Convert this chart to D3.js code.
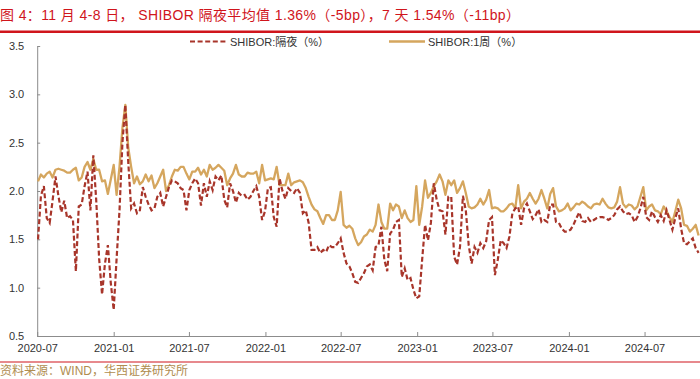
<!DOCTYPE html>
<html><head><meta charset="utf-8">
<script src="https://cdn.jsdelivr.net/npm/d3@7"></script>
<style>
html,body{margin:0;padding:0;background:#fff;}
svg{display:block;font-family:"Liberation Sans","Noto Sans CJK SC",Arial,sans-serif;}
</style></head>
<body>
<svg id="chart" width="700" height="379"></svg>
<script>
// ---- data (weekly averages, from 2020-07-03 to 2024-11-08) ----
const startDate = "2020-07-03";
const overnight = [
1.50,1.95,2.05,1.72,1.67,1.90,2.15,1.95,1.78,1.90,1.72,1.74,1.70,1.17,1.84,1.86,2.05,2.20,1.80,2.37,
1.90,1.30,0.93,1.25,1.44,1.05,0.77,1.30,1.80,2.50,2.89,2.30,1.82,
1.87,1.77,1.80,2.04,1.94,1.86,1.80,1.82,1.94,1.98,1.84,1.94,2.04,2.11,2.10,2.08,2.03,2.01,1.80,2.01,2.08,2.13,2.08,
1.85,2.08,1.94,2.10,2.01,2.15,2.11,2.16,1.91,1.83,2.08,2.00,1.88,1.98,1.95,1.96,1.91,1.94,2.00,2.05,1.94,1.70,1.79,2.03,2.04,1.73,1.63,2.13,
2.00,
1.92,2.03,2.00,1.98,2.03,1.98,1.77,1.80,1.67,1.39,1.39,1.42,1.36,1.39,1.37,1.44,1.42,1.42,1.46,1.51,1.36,1.25,1.22,1.15,1.06,1.05,1.10,1.15,
1.22,1.24,1.18,1.42,1.44,1.63,1.29,1.17,1.56,1.60,1.68,1.70,1.11,1.20,1.08,1.10,0.98,0.89,0.91,1.29,1.65,1.49,1.67,2.08,1.91,1.80,1.79,1.55,1.94,1.94,
1.32,1.24,1.42,1.95,1.80,1.44,1.25,1.42,1.36,1.46,1.41,1.48,1.70,1.73,1.13,1.29,1.49,1.46,1.41,1.53,1.77,1.82,1.84,1.65,1.82,1.87,1.79,
1.71,1.75,1.81,1.68,1.70,1.68,1.86,1.86,1.68,1.67,1.61,1.58,1.58,1.60,1.65,1.72,1.78,1.69,1.68,1.72,1.68,1.70,1.72,1.73,1.73,1.72,1.70,1.72,1.75,1.81,
1.84,1.79,1.76,1.77,1.75,1.68,1.73,1.82,1.94,1.73,1.70,1.79,1.73,1.68,1.75,1.69,1.80,1.70,1.60,1.72,1.82,1.61,1.46,1.45,1.48,1.51,1.41,
1.36
];
const oneWeek = [
2.10,2.17,2.14,2.18,2.20,2.14,2.22,2.23,2.22,2.21,2.19,2.19,2.22,2.24,2.11,2.14,2.25,2.30,2.22,2.33,
2.22,2.22,2.10,2.11,1.97,2.12,2.27,1.96,2.25,2.65,2.89,2.45,2.25,
2.08,2.15,2.07,2.10,2.17,2.10,2.16,2.03,2.08,2.15,2.22,2.00,2.06,2.15,2.22,2.21,2.25,2.25,2.18,2.12,2.20,2.20,2.24,
2.17,2.22,2.15,2.27,2.22,2.24,2.27,2.24,2.21,2.06,2.13,2.18,2.27,2.17,2.15,2.15,2.19,2.18,2.18,2.20,2.08,2.27,2.11,2.12,2.13,2.12,2.25,2.06,
2.06,
2.06,2.18,2.06,2.09,2.10,2.11,2.09,2.03,1.94,1.86,1.81,1.79,1.72,1.66,1.75,1.75,1.70,1.70,1.80,1.99,1.65,1.62,1.64,1.61,1.51,1.44,1.47,1.53,
1.55,1.60,1.58,1.65,1.86,1.68,1.61,1.61,1.87,1.80,1.86,1.84,1.72,1.80,1.72,1.68,1.70,2.05,1.65,1.84,2.11,1.93,1.98,2.05,2.10,2.17,2.10,1.96,2.11,2.06,
2.11,1.98,2.03,2.10,1.98,1.84,1.82,1.83,1.86,1.92,1.86,1.91,2.01,1.82,1.83,1.82,1.79,1.79,1.82,1.86,1.87,1.82,2.06,1.82,1.89,1.92,1.98,
1.92,1.87,1.92,2.01,1.92,1.82,1.97,2.03,1.84,1.79,1.80,1.82,1.87,1.80,1.83,1.87,1.86,1.89,1.87,1.84,1.82,1.86,1.87,1.86,1.92,1.87,1.83,1.82,1.83,1.89,
2.04,1.87,1.83,1.86,1.85,1.81,1.84,1.94,2.04,1.80,1.84,1.86,1.80,1.79,1.76,1.84,1.79,1.73,1.68,1.79,1.91,1.82,1.65,1.64,1.58,1.61,1.65,
1.54
];
const yTicks = [0.5,1.0,1.5,2.0,2.5,3.0,3.5];
const xTickLabels = ["2020-07","2021-01","2021-07","2022-01","2022-07","2023-01","2023-07","2024-01","2024-07"];
const seriesNames = ["SHIBOR:隔夜（%）","SHIBOR:1周（%）"];
const titleText = "图 4：11 月 4-8 日， SHIBOR 隔夜平均值 1.36%（-5bp），7 天 1.54%（-11bp）";
const sourceText = "资料来源：WIND，华西证券研究所";

// ---- build ----
const parse = d3.utcParse("%Y-%m-%d");
const parseM = d3.utcParse("%Y-%m");
const t0 = parse(startDate);
const dates = overnight.map((_, i) => d3.utcDay.offset(t0, 7 * i));
const on = overnight.map((v, i) => ({d: dates[i], v}));
const wk = oneWeek.map((v, i) => ({d: dates[i], v}));

const svg = d3.select("#chart");
const RED = "#d0151c", C1 = "#a8352a", C2 = "#d5a65e", AX = "#8c8c8c";

const x = d3.scaleUtc().domain([parseM("2020-07"), dates[dates.length - 1]]).range([37.2, 698.6]);
const y = d3.scaleLinear().domain([0.5, 3.5]).range([336, 46]);

// title
svg.append("text").attr("x", 0).attr("y", 20).attr("fill", RED)
  .attr("font-size", 14).attr("textLength", 520).attr("lengthAdjust", "spacing").text(titleText);
svg.append("rect").attr("x", 0).attr("y", 30.5).attr("width", 700).attr("height", 2.5).attr("fill", RED);

// axes
const gx = svg.append("g").attr("transform", "translate(0,336)")
  .call(d3.axisBottom(x).tickValues(xTickLabels.map(parseM)).tickFormat(d3.utcFormat("%Y-%m"))
    .tickSize(-4).tickSizeOuter(0).tickPadding(8));
const gy = svg.append("g").attr("transform", "translate(37.2,0)")
  .call(d3.axisLeft(y).tickValues(yTicks).tickFormat(d3.format(".1f"))
    .tickSize(-3).tickSizeOuter(0).tickPadding(13));
[gx, gy].forEach(g => {
  g.select(".domain").attr("stroke", AX).attr("stroke-width", 1);
  g.selectAll(".tick line").attr("stroke", AX);
  g.selectAll(".tick text").attr("fill", "#333").attr("font-size", 11)
    .attr("font-family", "Liberation Sans, Arial, sans-serif");
});
gx.select(".domain").attr("d", "M37.2,0.5H700");

// lines
const line = d3.line().x(d => x(d.d)).y(d => y(d.v));
svg.append("path").datum(wk).attr("d", line).attr("fill", "none")
  .attr("stroke", C2).attr("stroke-width", 2.3).attr("stroke-linejoin", "round");
svg.append("path").datum(on).attr("d", line).attr("fill", "none")
  .attr("stroke", C1).attr("stroke-width", 2.2).attr("stroke-dasharray", "5,2.6");

// legend
const lg = svg.append("g").attr("font-size", 11).attr("fill", "#333");
lg.append("line").attr("x1", 190).attr("x2", 227).attr("y1", 41.5).attr("y2", 41.5)
  .attr("stroke", C1).attr("stroke-width", 2.2).attr("stroke-dasharray", "5,2.6");
lg.append("text").attr("x", 230).attr("y", 45.5).text(seriesNames[0]);
lg.append("line").attr("x1", 389).attr("x2", 425).attr("y1", 41.5).attr("y2", 41.5)
  .attr("stroke", C2).attr("stroke-width", 2.3);
lg.append("text").attr("x", 428).attr("y", 45.5).text(seriesNames[1]);

// footer
svg.append("rect").attr("x", 0).attr("y", 361.5).attr("width", 700).attr("height", 1).attr("fill", RED);
svg.append("text").attr("x", 0).attr("y", 375).attr("fill", "#b08d50").attr("font-size", 12).text(sourceText);
</script>
</body></html>
